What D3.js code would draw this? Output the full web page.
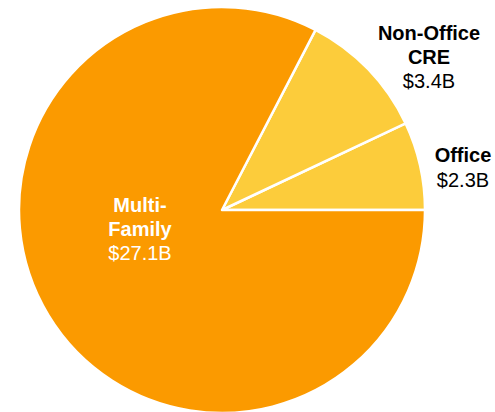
<!DOCTYPE html>
<html>
<head>
<meta charset="utf-8">
<script src="https://cdn.jsdelivr.net/npm/d3@7"></script>
<style>
  body { margin: 0; background: #fff; }
  text { font-family: "Liberation Sans", Arial, sans-serif; }
</style>
</head>
<body>
<div id="pie"></div>
<script>
// data
const categories = ["Office", "Non-Office CRE", "Multi-Family"];
const values = [2.3, 3.4, 27.1];           // $ billions
const valueLabels = ["$2.3B", "$3.4B", "$27.1B"];
const nameLines = [["Office"], ["Non-Office", "CRE"], ["Multi-", "Family"]];
const colors = ["#fccc3b", "#fccc3b", "#fb9a00"];

const width = 495, height = 412;
const cx = 222, cy = 210, radius = 203;

const svg = d3.select('#pie')
    .append('svg')
    .attr('width', width)
    .attr('height', height);

const g = svg.append('g')
    .attr('transform', `translate(${cx},${cy})`);

const data = categories.map((c, i) => ({ name: c, value: values[i], i: i }));

// start at 3 o'clock and go counter-clockwise
const pie = d3.pie()
    .sort(null)
    .value(d => d.value)
    .startAngle(Math.PI / 2)
    .endAngle(Math.PI / 2 - 2 * Math.PI);

const arc = d3.arc()
    .innerRadius(0)
    .outerRadius(radius);

const arcs = pie(data);

g.selectAll('path')
    .data(arcs)
    .join('path')
    .attr('d', arc)
    .attr('fill', d => colors[d.data.i])
    .attr('stroke', '#fff')
    .attr('stroke-width', 2.5)
    .attr('stroke-linejoin', 'round');

// label placement, relative to the pie centre
const labelOffset = {
    "Office": [241, -48],
    "Non-Office CRE": [207, -170],
    "Multi-Family": [-82, 2]
};
const fontSize = 20;
const lineH = 23.5;

arcs.forEach(d => {
    const i = d.data.i;
    const [lx, ly] = labelOffset[d.data.name];
    const inside = d.data.name === "Multi-Family";
    const t = g.append('text')
        .attr('x', lx)
        .attr('y', ly)
        .attr('text-anchor', 'middle')
        .attr('fill', inside ? '#fff' : '#000')
        .style('font-size', fontSize + 'px');
    nameLines[i].forEach((line, k) => {
        t.append('tspan')
            .attr('x', lx)
            .attr('dy', k === 0 ? 0 : lineH)
            .style('font-weight', 'bold')
            .text(line);
    });
    t.append('tspan')
        .attr('x', lx)
        .attr('dy', lineH + 1)
        .text(valueLabels[i]);
});
</script>
</body>
</html>
